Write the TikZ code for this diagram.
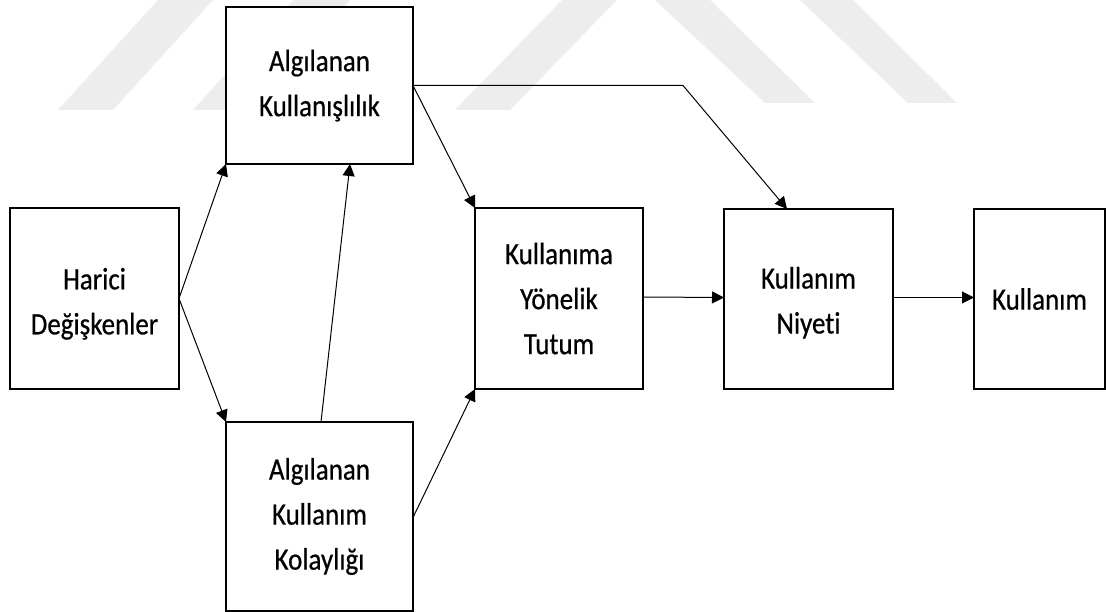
\documentclass[tikz,border=0pt]{standalone}
\usepackage{fontspec}
\setmainfont{Carlito}[FakeStretch=0.87, FakeBold=0.6, Ligatures=NoCommon]
\usetikzlibrary{arrows.meta}

\tikzset{
  box/.style={draw=black, line width=2.2pt, fill=white, inner sep=0pt, outer sep=0pt,
    align=center, font=\fontsize{31}{45}\selectfont},
  link/.style={draw=black, line width=1pt, -{Triangle[length=12pt,width=12pt]}},
  stripe/.style={fill=black!7, draw=none}
}

\begin{document}
\begin{tikzpicture}[x=1pt, y=-1pt]
  \useasboundingbox (0,0) rectangle (1106,612);
  \fill[white] (0,0) rectangle (1106,612);

  % faint background stripes
  \path[stripe] (58,110) -- (113,110) -- (213,0) -- (158,0) -- cycle;
  \path[stripe] (193,110) -- (250,110) -- (350,0) -- (293,0) -- cycle;
  \path[stripe] (455,110) -- (510,110) -- (617,0) -- (562,0) -- cycle;
  \path[stripe] (655,0) -- (710,0) -- (815,103) -- (765,103) -- cycle;
  \path[stripe] (800,0) -- (853,0) -- (957,103) -- (908,103) -- cycle;

  % model components
  \node[box, minimum width=169pt, minimum height=181pt] (H)  at (94.5,298.5) {\rule{0pt}{32pt}Harici\\Değişkenler};
  \node[box, minimum width=187pt, minimum height=157pt] (AK) at (319.5,85.5) {Algılanan\\Kullanışlılık};
  \node[box, minimum width=187pt, minimum height=189pt] (KO) at (319.5,516.5) {Algılanan\\Kullanım\\Kolaylığı};
  \node[box, minimum width=168pt, minimum height=181pt] (T)  at (559,298.5) {Kullanıma\\Yönelik\\Tutum};
  \node[box, minimum width=169pt, minimum height=180pt] (N)  at (808.5,299) {\rule{0pt}{29pt}Kullanım\\Niyeti};
  \node[box, minimum width=131pt, minimum height=180pt] (K)  at (1039.5,299) {Kullanım};

  \coordinate (bend) at (683,85.5);

  % relations
  \draw[link] (H.east) -- (AK.south west);
  \draw[link] (H.east) -- (KO.north west);
  \draw[link] ([xshift=1.5pt]KO.north) -- ([xshift=30.5pt]AK.south);
  \draw[link] (AK.east) -- (T.north west);
  \draw[link] (AK.east) -- (bend) -- ([xshift=-21.5pt]N.north);
  \draw[link] ([yshift=-1pt]KO.east) -- (T.south west);
  \draw[link] ([yshift=1.5pt]T.east) -- ([yshift=1.5pt]N.west);
  \draw[link] ([yshift=1.5pt]N.east) -- ([yshift=1.5pt]K.west);
\end{tikzpicture}
\end{document}
